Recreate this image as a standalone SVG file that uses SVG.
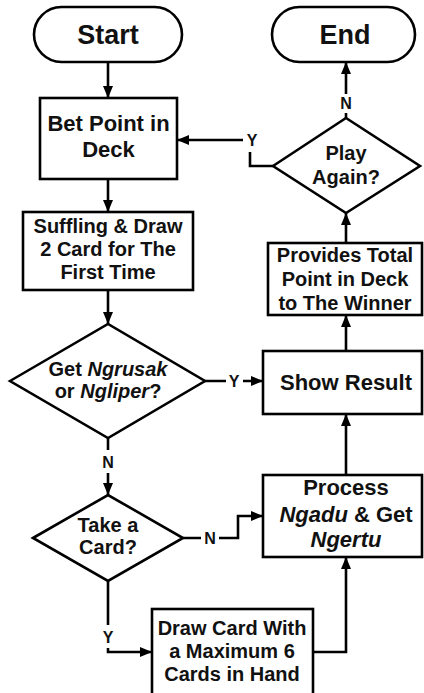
<svg xmlns="http://www.w3.org/2000/svg" width="424" height="693" viewBox="0 0 424 693">
<defs>
<marker id="ah" markerUnits="userSpaceOnUse" markerWidth="12" markerHeight="10" viewBox="0 0 12 10" refX="12" refY="5" orient="auto">
<path d="M0,0 L12,5 L0,10 Z" fill="#000"/>
</marker>
</defs>
<style>
.s{fill:#fff;stroke:#000;stroke-width:2.6}
.t{font-family:"Liberation Sans",Arial,sans-serif;font-weight:bold;fill:#111;text-anchor:middle}
.c{fill:none;stroke:#000;stroke-width:2.6}
.l{font-family:"Liberation Sans",Arial,sans-serif;font-weight:bold;font-size:16px;fill:#111;text-anchor:middle}
.bg{fill:#fff}
</style>
<rect width="424" height="693" fill="#fff"/>
<g id="connectors">
<path class="c" d="M108,62 L108,98" marker-end="url(#ah)"/>
<path class="c" d="M108,179 L108,212" marker-end="url(#ah)"/>
<path class="c" d="M108,290 L108,324" marker-end="url(#ah)"/>
<path class="c" d="M205,381 L263,381" marker-end="url(#ah)"/>
<path class="c" d="M108,438 L108,495" marker-end="url(#ah)"/>
<path class="c" d="M183,538 L238,538 L238,516 L263,516" marker-end="url(#ah)"/>
<path class="c" d="M108,581 L108,652 L152,652" marker-end="url(#ah)"/>
<path class="c" d="M313,652 L346,652 L346,557" marker-end="url(#ah)"/>
<path class="c" d="M346,475 L346,414" marker-end="url(#ah)"/>
<path class="c" d="M346,351 L346,315" marker-end="url(#ah)"/>
<path class="c" d="M346,243 L346,213" marker-end="url(#ah)"/>
<path class="c" d="M346,118 L346,62" marker-end="url(#ah)"/>
<path class="c" d="M273,166 L250,166 L250,140 L177,140" marker-end="url(#ah)"/>
<rect class="bg" x="226" y="372" width="17" height="18"/>
<text class="l" x="234" y="387">Y</text>
<rect class="bg" x="99" y="450" width="18" height="23"/>
<text class="l" x="108" y="468">N</text>
<rect class="bg" x="201" y="529" width="18" height="18"/>
<text class="l" x="210" y="544">N</text>
<rect class="bg" x="99" y="625" width="18" height="23"/>
<text class="l" x="108" y="643">Y</text>
<rect class="bg" x="337" y="94" width="18" height="19"/>
<text class="l" x="346" y="109">N</text>
<rect class="bg" x="243" y="131" width="17" height="21"/>
<text class="l" x="252" y="146">Y</text>
</g>
<g id="start">
<rect class="s" x="34" y="7" width="148" height="55" rx="27.5"/>
<text class="t" x="108" y="44" font-size="27">Start</text>
</g>
<g id="end">
<rect class="s" x="272" y="7" width="143" height="55" rx="27.5"/>
<text class="t" x="345" y="44" font-size="27">End</text>
</g>
<g id="bet">
<rect class="s" x="40" y="98" width="137" height="81"/>
<text class="t" x="108.5" y="131" font-size="22">Bet Point in</text>
<text class="t" x="108.5" y="157" font-size="22">Deck</text>
</g>
<g id="suffling">
<rect class="s" x="23" y="212" width="170" height="78"/>
<text class="t" x="108" y="233" font-size="20">Suffling &amp; Draw</text>
<text class="t" x="108" y="256" font-size="20">2 Card for The</text>
<text class="t" x="108" y="279" font-size="20">First Time</text>
</g>
<g id="get">
<polygon class="s" points="10,381 108,324 205,381 108,438"/>
<text class="t" x="108" y="376" font-size="20">Get <tspan font-style="italic">Ngrusak</tspan></text>
<text class="t" x="108" y="398" font-size="20">or <tspan font-style="italic">Ngliper</tspan>?</text>
</g>
<g id="take">
<polygon class="s" points="33,538 108,495 183,538 108,581"/>
<text class="t" x="108" y="532" font-size="20">Take a</text>
<text class="t" x="108" y="554" font-size="20">Card?</text>
</g>
<g id="draw">
<rect class="s" x="152" y="609" width="161" height="95"/>
<text class="t" x="232" y="635" font-size="20">Draw Card With</text>
<text class="t" x="232" y="658" font-size="20">a Maximum 6</text>
<text class="t" x="232" y="681" font-size="20">Cards in Hand</text>
</g>
<g id="process">
<rect class="s" x="263" y="475" width="159" height="82"/>
<text class="t" x="346" y="495" font-size="22">Process</text>
<text class="t" x="346" y="522" font-size="22"><tspan font-style="italic">Ngadu</tspan> &amp; Get</text>
<text class="t" x="346" y="547" font-size="22" font-style="italic">Ngertu</text>
</g>
<g id="show">
<rect class="s" x="263" y="351" width="159" height="63"/>
<text class="t" x="346" y="390" font-size="22">Show Result</text>
</g>
<g id="provides">
<rect class="s" x="268" y="243" width="154" height="72"/>
<text class="t" x="345" y="262" font-size="20">Provides Total</text>
<text class="t" x="345" y="286" font-size="20">Point in Deck</text>
<text class="t" x="345" y="310" font-size="20">to The Winner</text>
</g>
<g id="play">
<polygon class="s" points="273,166 346,118 420,166 346,213"/>
<text class="t" x="346" y="160" font-size="20">Play</text>
<text class="t" x="346" y="184" font-size="20">Again?</text>
</g>
</svg>
